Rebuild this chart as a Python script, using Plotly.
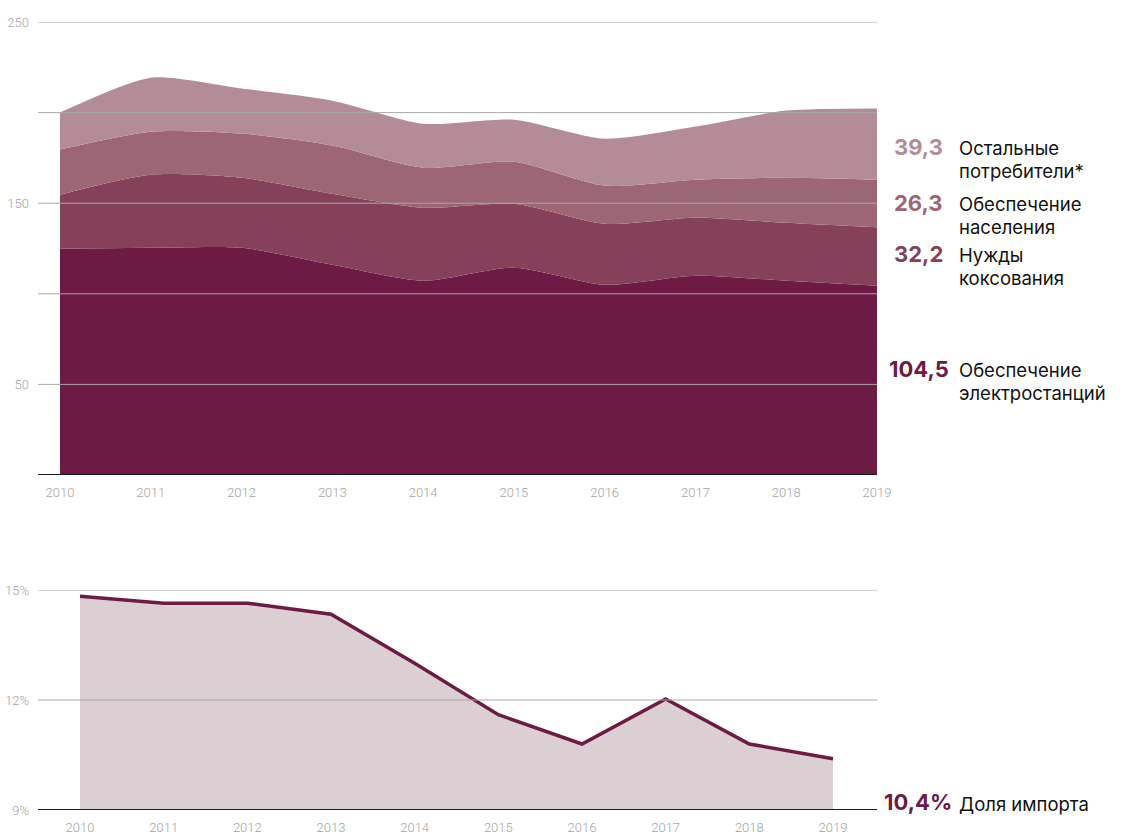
import plotly.graph_objects as go

# Coal consumption by consumer group, million tonnes
years = [2010, 2011, 2012, 2013, 2014, 2015, 2016, 2017, 2018, 2019]
power_plants = [124.9, 125.4, 125.4, 116.0, 107.2, 114.4, 105.0, 110.0, 107.2, 104.5]
coking = [29.8, 40.3, 38.6, 39.2, 40.3, 35.3, 33.7, 32.0, 32.0, 32.2]
households = [24.9, 23.8, 24.4, 26.6, 22.1, 23.2, 21.0, 21.0, 24.8, 26.3]
other = [20.4, 29.8, 24.9, 24.8, 24.3, 23.2, 25.9, 29.3, 37.1, 39.3]

# Share of imports, %
import_share = [14.83, 14.64, 14.64, 14.34, 13.0, 11.6, 10.8, 12.03, 10.8, 10.4]

top_ticks = [50, 100, 150, 200, 250]
top_ticktext = ["50", "", "150", "", "250"]
bottom_ticks = [9, 12, 15]
bottom_ticktext = ["9%", "12%", "15%"]

series = [
    (power_plants, "#6d1a45", ["Обеспечение", "электростанций"]),
    (coking, "#85405a", ["Нужды", "коксования"]),
    (households, "#9c6675", ["Обеспечение", "населения"]),
    (other, "#b48c98", ["Остальные", "потребители*"]),
]

W, H = 1129, 840
px_x = lambda p: p / W
px_y = lambda p: 1 - p / H
GRID_X0, GRID_X1 = 38, 877

fig = go.Figure()

for vals, color, name in series:
    fig.add_trace(go.Scatter(
        x=years, y=vals, stackgroup="one", mode="lines",
        line=dict(width=0, shape="spline", smoothing=0.7, color=color),
        fillcolor=color, name=" ".join(name),
        xaxis="x", yaxis="y", hoverinfo="x+y",
    ))

fig.add_trace(go.Scatter(
    x=years, y=import_share, mode="lines", fill="tozeroy",
    fillcolor="#dccfd3", line=dict(color="#6d1a45", width=3.5),
    xaxis="x2", yaxis="y2", name="Доля импорта",
))

tick_font = dict(family="Roboto, sans-serif", size=13, color="#a3a3a3", weight=300)
axis_common = dict(showgrid=False, zeroline=False, showline=False, ticks="",
                   ticklabelstandoff=8, automargin=False, tickfont=tick_font)

fig.update_layout(
    template="none",
    width=W, height=H, margin=dict(l=0, r=0, t=0, b=0, pad=0), autosize=False,
    paper_bgcolor="white", plot_bgcolor="white", showlegend=False,
    xaxis=dict(domain=[px_x(GRID_X0), px_x(GRID_X1)], range=[2009.758, 2019.0],
               tickvals=years, anchor="y", **axis_common),
    yaxis=dict(domain=[px_y(475), px_y(22)], range=[0, 250],
               tickvals=top_ticks, ticktext=top_ticktext, anchor="x", **axis_common),
    xaxis2=dict(domain=[px_x(GRID_X0), px_x(GRID_X1)], range=[2009.498, 2019.526],
                tickvals=years, anchor="y2", **axis_common),
    yaxis2=dict(domain=[px_y(810), px_y(590)], range=[9, 15],
                tickvals=bottom_ticks, ticktext=bottom_ticktext, anchor="x2", **axis_common),
)

# Gridlines drawn over the filled areas
for v in top_ticks:
    fig.add_shape(type="line", xref="paper", yref="y", x0=px_x(GRID_X0), x1=px_x(GRID_X1),
                  y0=v, y1=v, layer="above", line=dict(color="#a8a8a8", width=1))
for v in bottom_ticks[1:]:
    fig.add_shape(type="line", xref="paper", yref="y2", x0=px_x(GRID_X0), x1=px_x(GRID_X1),
                  y0=v, y1=v, layer="above", line=dict(color="#a8a8a8", width=1))

# Baselines of both panels
fig.add_shape(type="line", xref="paper", yref="y", x0=px_x(GRID_X0), x1=px_x(GRID_X1), y0=0, y1=0,
              layer="above", line=dict(color="#1a1a1a", width=2))
fig.add_shape(type="line", xref="paper", yref="y2", x0=px_x(GRID_X0), x1=px_x(GRID_X1), y0=9, y1=9,
              layer="above", line=dict(color="#1a1a1a", width=2))


def fmt(v, suffix=""):
    return f"{v:.1f}".replace(".", ",") + suffix


label_font = "Inter, Roboto, sans-serif"
VALUE_SIZE, TEXT_SIZE = 22, 18.5

# End-of-series labels: value in the series colour, name in two lines
label_rows = {"#b48c98": (148, 945), "#9c6675": (204, 945), "#85405a": (255, 945), "#6d1a45": (370, 951)}
for vals, color, lines in series:
    ypx, right = label_rows[color]
    fig.add_annotation(xref="paper", yref="paper", x=px_x(right), y=px_y(ypx - 1),
                       xanchor="right", yanchor="middle", showarrow=False,
                       text=f"<b>{fmt(vals[-1])}</b>",
                       font=dict(family=label_font, size=VALUE_SIZE, color=color))
    for i, line in enumerate(lines):
        fig.add_annotation(xref="paper", yref="paper", x=px_x(957), y=px_y(ypx + 23 * i),
                           xanchor="left", yanchor="middle", showarrow=False,
                           text=line, font=dict(family=label_font, size=TEXT_SIZE, color="#111111"))

fig.add_annotation(xref="paper", yref="paper", x=px_x(954), y=px_y(802),
                   xanchor="right", yanchor="middle", showarrow=False,
                   text=f"<b>{fmt(import_share[-1], '%')}</b>",
                   font=dict(family=label_font, size=VALUE_SIZE, color="#6d1a45"))
fig.add_annotation(xref="paper", yref="paper", x=px_x(957), y=px_y(804),
                   xanchor="left", yanchor="middle", showarrow=False,
                   text="Доля импорта",
                   font=dict(family=label_font, size=TEXT_SIZE, color="#111111"))

fig.write_html("out.html")
